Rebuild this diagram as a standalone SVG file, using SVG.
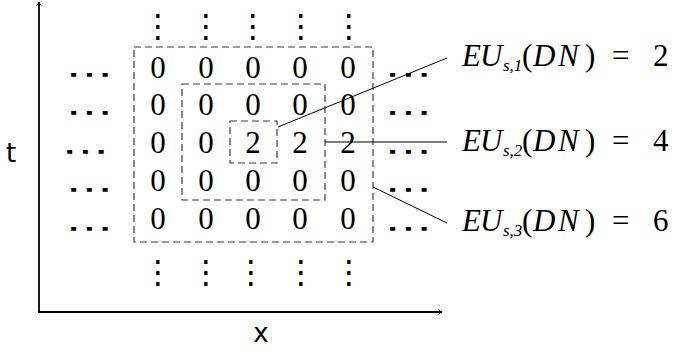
<svg xmlns="http://www.w3.org/2000/svg" width="676" height="352" viewBox="0 0 676 352">
<defs>
<style>
.num{font-family:"Liberation Serif",serif;font-size:31px;fill:#000;text-anchor:middle}
.hd{font-family:"DejaVu Sans",sans-serif;font-size:30px;fill:#000;text-anchor:middle}
.vd{font-family:"DejaVu Sans",sans-serif;font-size:32px;fill:#000;text-anchor:middle}
.lab{font-family:"Liberation Serif",serif;font-size:31px;fill:#000}
.it{font-style:italic}
.sub{font-style:italic;font-size:17px}
.ax{font-family:"DejaVu Sans",sans-serif;font-size:26px;fill:#000}
.box{fill:none;stroke:#3a3a3a;stroke-width:1.2;stroke-dasharray:7 4}
.axis{fill:none;stroke:#000;stroke-width:1.8}
.conn{fill:none;stroke:#000;stroke-width:1}
</style>
<marker id="arr" viewBox="0 0 10 10" refX="8" refY="5" markerWidth="6" markerHeight="6" orient="auto" markerUnits="userSpaceOnUse">
<path d="M2,1 Q5,4 8,5 Q5,6 2,9" fill="none" stroke="#000" stroke-width="1.5"/>
</marker>
</defs>
<g id="axes">
<line class="axis" x1="39" y1="312" x2="39" y2="2" marker-end="url(#arr)"/>
<line class="axis" x1="38" y1="312" x2="442" y2="312" marker-end="url(#arr)"/>
<text class="ax" x="11" y="162" text-anchor="middle">t</text>
<text class="ax" x="261" y="342" text-anchor="middle">x</text>
</g>
<g id="grid">
<text class="num" x="158" y="78">0</text><text class="num" x="206" y="78">0</text><text class="num" x="253" y="78">0</text><text class="num" x="300" y="78">0</text><text class="num" x="348" y="78">0</text>
<text class="num" x="158" y="115">0</text><text class="num" x="206" y="115">0</text><text class="num" x="253" y="115">0</text><text class="num" x="300" y="115">0</text><text class="num" x="348" y="115">0</text>
<text class="num" x="158" y="153">0</text><text class="num" x="206" y="153">0</text><text class="num" x="253" y="153">2</text><text class="num" x="300" y="153">2</text><text class="num" x="348" y="153">2</text>
<text class="num" x="158" y="191">0</text><text class="num" x="206" y="191">0</text><text class="num" x="253" y="191">0</text><text class="num" x="300" y="191">0</text><text class="num" x="348" y="191">0</text>
<text class="num" x="158" y="229">0</text><text class="num" x="206" y="229">0</text><text class="num" x="253" y="229">0</text><text class="num" x="300" y="229">0</text><text class="num" x="348" y="229">0</text>
</g>
<g id="hdots">
<text class="hd" transform="translate(90,84) scale(1.6,1)">⋯</text>
<text class="hd" transform="translate(90,122) scale(1.6,1)">⋯</text>
<text class="hd" transform="translate(86,161) scale(1.6,1)">⋯</text>
<text class="hd" transform="translate(90,199) scale(1.6,1)">⋯</text>
<text class="hd" transform="translate(90,238) scale(1.6,1)">⋯</text>
<text class="hd" transform="translate(409,84) scale(1.6,1)">⋯</text>
<text class="hd" transform="translate(409,122) scale(1.6,1)">⋯</text>
<text class="hd" transform="translate(409,161) scale(1.6,1)">⋯</text>
<text class="hd" transform="translate(409,199) scale(1.6,1)">⋯</text>
<text class="hd" transform="translate(409,238) scale(1.6,1)">⋯</text>
</g>
<g id="vdots">
<text class="vd" x="158" y="37">⋮</text><text class="vd" x="206" y="37">⋮</text><text class="vd" x="253" y="37">⋮</text><text class="vd" x="301" y="37">⋮</text><text class="vd" x="349" y="37">⋮</text>
<text class="vd" x="158" y="283">⋮</text><text class="vd" x="206" y="283">⋮</text><text class="vd" x="251" y="283">⋮</text><text class="vd" x="301" y="283">⋮</text><text class="vd" x="349" y="283">⋮</text>
</g>
<g id="box3"><rect class="box" x="134" y="47" width="239" height="195"/></g>
<g id="box2"><rect class="box" x="182" y="84" width="143" height="116"/></g>
<g id="box1"><rect class="box" x="230" y="121" width="47" height="42"/></g>
<g id="connectors">
<line class="conn" x1="278" y1="127" x2="447" y2="58"/>
<line class="conn" x1="325" y1="142" x2="447" y2="142"/>
<line class="conn" x1="373" y1="187" x2="447" y2="223"/>
</g>
<g id="label1">
<text class="lab" y="66"><tspan class="it" x="462">E</tspan><tspan class="it" x="480">U</tspan><tspan class="sub" x="503" dy="5">s,1</tspan><tspan x="522" dy="-5">(</tspan><tspan class="it" x="533">D</tspan><tspan class="it" x="558">N</tspan><tspan x="585">)</tspan><tspan x="612">=</tspan><tspan x="653">2</tspan></text>
</g>
<g id="label2">
<text class="lab" y="151"><tspan class="it" x="462">E</tspan><tspan class="it" x="480">U</tspan><tspan class="sub" x="503" dy="5">s,2</tspan><tspan x="522" dy="-5">(</tspan><tspan class="it" x="533">D</tspan><tspan class="it" x="558">N</tspan><tspan x="585">)</tspan><tspan x="612">=</tspan><tspan x="653">4</tspan></text>
</g>
<g id="label3">
<text class="lab" y="231"><tspan class="it" x="462">E</tspan><tspan class="it" x="480">U</tspan><tspan class="sub" x="503" dy="5">s,3</tspan><tspan x="522" dy="-5">(</tspan><tspan class="it" x="533">D</tspan><tspan class="it" x="558">N</tspan><tspan x="585">)</tspan><tspan x="612">=</tspan><tspan x="653">6</tspan></text>
</g>
</svg>
